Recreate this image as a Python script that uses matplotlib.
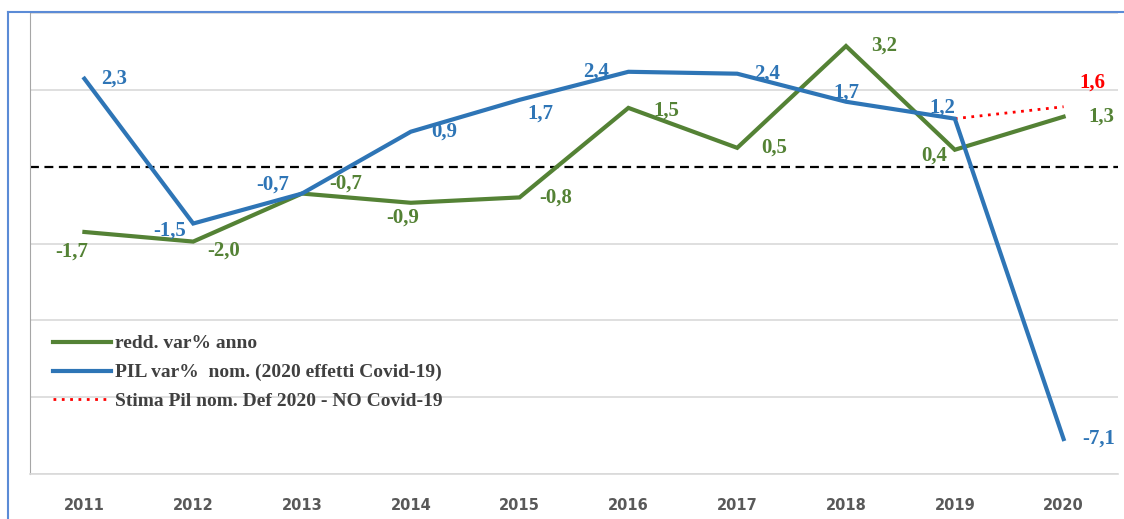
import matplotlib
matplotlib.use("Agg")
import matplotlib.pyplot as plt
from matplotlib.lines import Line2D

# data
years = ['2011', '2012', '2013', '2014', '2015', '2016', '2017', '2018', '2019', '2020']
redd = [-1.7, -1.95, -0.7, -0.94, -0.8, 1.53, 0.49, 3.14, 0.44, 1.3]
redd_labels = ['-1,7', '-2,0', '-0,7', '-0,9', '-0,8', '1,5', '0,5', '3,2', '0,4', '1,3']
pil = [2.29, -1.48, -0.7, 0.91, 1.74, 2.47, 2.42, 1.69, 1.25, -7.09]
pil_labels = ['2,3', '-1,5', '-0,7', '0,9', '1,7', '2,4', '2,4', '1,7', '1,2', '-7,1']
stima_years = ['2019', '2020']
stima = [1.25, 1.56]
stima_label = '1,6'

green = '#548235'
blue = '#2E75B6'
red = '#FF0000'

# label offsets in pixels (dx, dy with dy measured downward)
redd_off = [(-13, 20), (30, 9), (44, -10), (-8, 15), (36, 0), (38, 3), (37, 0), (38, 0), (-21, 6), (38, 0)]
pil_off = [(30, 0), (-24, 7), (-29, -9), (33, 0), (21, 14), (-32, 0), (30, 0), (0, -9), (-12, -11), (35, 0)]

fig = plt.figure(figsize=(11.24, 5.19), dpi=100)
ax = fig.add_axes([30 / 1124, 1 - 474 / 519, 1088 / 1124, 461 / 519])

x = list(range(len(years)))
xs = [years.index(y) for y in stima_years]

ax.plot(x, redd, color=green, lw=3, solid_joinstyle='miter', label='redd. var% anno', zorder=3)
ax.plot(x, pil, color=blue, lw=3, solid_joinstyle='miter', label='PIL var%  nom. (2020 effetti Covid-19)', zorder=4)
ax.plot(xs, stima, color=red, lw=2, ls=(0, (1, 2)), label='Stima Pil nom. Def 2020 - NO Covid-19', zorder=2)
ax.axhline(0, color='black', lw=1.6, ls=(0, (4, 2.5)), zorder=1)

lab_font = dict(family='Liberation Serif', fontweight='bold', fontsize=15, ha='center', va='center')
for i in range(len(years)):
    dx, dy = redd_off[i]
    ax.annotate(redd_labels[i], (x[i], redd[i]), xytext=(dx, -dy), textcoords='offset pixels',
                color=green, **lab_font)
    dx, dy = pil_off[i]
    ax.annotate(pil_labels[i], (x[i], pil[i]), xytext=(dx, -dy), textcoords='offset pixels',
                color=blue, **lab_font)
ax.annotate(stima_label, (xs[-1], stima[-1]), xytext=(29, 24), textcoords='offset pixels',
            color=red, **lab_font)

ax.set_xlim(-0.5, 9.5)
ax.set_ylim(-8, 4)
ax.set_yticks([-8, -6, -4, -2, 2, 4])
ax.yaxis.grid(True, color='#D9D9D9', lw=1.2)
ax.set_yticklabels([])
ax.tick_params(axis='y', length=0)
ax.set_xticks(x)
ax.set_xticklabels(years, fontsize=10.5, fontweight='bold', color='#595959', family='DejaVu Sans')
ax.tick_params(axis='x', length=0, pad=17)
for s in ['top', 'right']:
    ax.spines[s].set_visible(False)
ax.spines['left'].set_color('#A6A6A6')
ax.spines['bottom'].set_color('#D9D9D9')
ax.spines['bottom'].set_linewidth(1.2)
ax.set_axisbelow(True)

leg = ax.legend(loc='upper left', bbox_to_anchor=(13 / 1088, 0.323), frameon=False,
                borderpad=0, handlelength=3.0, handletextpad=0.2, labelspacing=0.58,
                prop=dict(family='Liberation Serif', weight='bold', size=14))
for t in leg.get_texts():
    t.set_color('#404040')

# chart frame
fig.add_artist(Line2D([8 / 1124, 1], [1 - 12 / 519] * 2, color='#5B8BD6', lw=1.5))
fig.add_artist(Line2D([8 / 1124] * 2, [0, 1 - 12 / 519], color='#5B8BD6', lw=1.5))

fig.savefig('out.png', dpi=100)
